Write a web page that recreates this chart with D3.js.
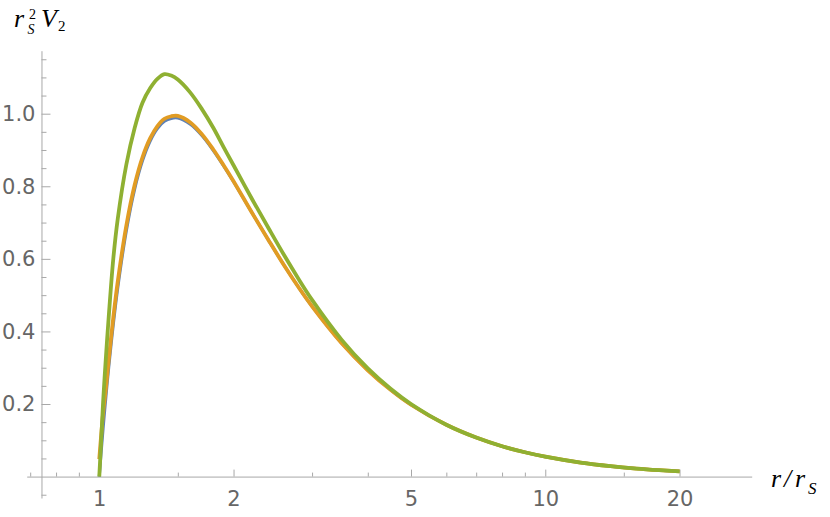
<!DOCTYPE html>
<html>
<head>
<meta charset="utf-8">
<script src="https://cdn.jsdelivr.net/npm/d3@7"></script>
<style>
  html, body { margin: 0; padding: 0; background: #fff; }
  svg { display: block; }
  .tick text { font-family: "DejaVu Sans", sans-serif; font-size: 21px; fill: #666; }
  .lab { font-family: "Liberation Serif", "Times New Roman", serif; font-style: italic; fill: #000; }
</style>
</head>
<body>
<svg id="chart" width="830" height="517"></svg>
<script>
// ---- data ----
const rValues = [1, 1.01, 1.02, 1.035, 1.05, 1.075, 1.1, 1.15, 1.2, 1.25, 1.3, 1.35, 1.4, 1.45, 1.5,
  1.6, 1.7, 1.8, 1.9, 2.0, 2.2, 2.4, 2.6, 2.8, 3.0, 3.5, 4, 4.5, 5, 6, 7, 8, 9, 10, 12, 14, 16, 18, 20];
const blueValues = [0, 0.068, 0.132, 0.220, 0.300, 0.418, 0.519, 0.677, 0.791, 0.870, 0.924, 0.959, 0.979, 0.987, 0.988,
  0.9705, 0.939, 0.899, 0.856, 0.8125, 0.727, 0.650, 0.581, 0.521, 0.469, 0.3665, 0.293, 0.239, 0.198, 0.1428, 0.1075, 0.0837, 0.0671, 0.0549, 0.0387, 0.0288, 0.0222, 0.0177, 0.0144];
const orangeValues = [0.048, 0.115, 0.175, 0.245, 0.322, 0.438, 0.537, 0.692, 0.803, 0.880, 0.932, 0.966, 0.986, 0.993, 0.994,
  0.976, 0.943, 0.902, 0.858, 0.814, 0.727, 0.650, 0.581, 0.521, 0.469, 0.3665, 0.293, 0.239, 0.198, 0.1428, 0.1075, 0.0837, 0.0671, 0.0549, 0.0387, 0.0288, 0.0222, 0.0177, 0.0144];
const greenValues = [0, 0.10, 0.205, 0.33, 0.44, 0.60, 0.71, 0.86, 0.96, 1.03, 1.07, 1.096, 1.109, 1.105, 1.094,
  1.058, 1.012, 0.962, 0.908, 0.858, 0.765, 0.683, 0.609, 0.544, 0.487, 0.376, 0.298, 0.242, 0.200, 0.1428, 0.1075, 0.0837, 0.0671, 0.0549, 0.0387, 0.0288, 0.0222, 0.0177, 0.0144];

const xMajorTicks = [1, 2, 5, 10, 20];
const xMinorTicks = [0.7, 0.8, 0.9, 1.5, 3, 4, 6, 7, 8, 9, 15];
const yMajorTicks = [0.2, 0.4, 0.6, 0.8, 1.0];
const yMinorTicks = [-0.05, 0.05, 0.1, 0.15, 0.25, 0.3, 0.35, 0.45, 0.5, 0.55, 0.65, 0.7, 0.75, 0.85, 0.9, 0.95, 1.05, 1.1, 1.15];
const yTickLabels = ["0.2", "0.4", "0.6", "0.8", "1.0"];

const seriesColors = ["#5E81B5", "#E19C24", "#8FB032"];
const xDomain = [0.6875, 29.03];
const yDomain = [-0.059, 1.1736];
const yAxisCrossX = 0.742;

// ---- chart ----
const svg = d3.select("#chart");
const x = d3.scaleLog().domain(xDomain).range([26.7, 751.7]);
const y = d3.scaleLinear().domain(yDomain).range([498, 50.7]);

const axisColor = "#a8a8a8";

// x axis
const gx = svg.append("g").attr("transform", `translate(0,${y(0)})`);
gx.append("g").call(d3.axisBottom(x).tickValues(xMinorTicks).tickSizeInner(-4).tickSizeOuter(0).tickFormat(""))
  .call(g => g.select(".domain").attr("stroke", axisColor));
gx.append("g").call(d3.axisBottom(x).tickValues(xMajorTicks).tickSizeInner(-7).tickSizeOuter(0).tickPadding(14.5).tickFormat(d3.format("d")))
  .call(g => g.select(".domain").remove());
gx.selectAll("line").attr("stroke", axisColor);

// y axis
const gy = svg.append("g").attr("transform", `translate(${x(yAxisCrossX)},0)`);
gy.append("g").call(d3.axisLeft(y).tickValues(yMinorTicks).tickSizeInner(-5).tickSizeOuter(0).tickFormat(""))
  .call(g => g.select(".domain").attr("stroke", axisColor));
gy.append("g").call(d3.axisLeft(y).tickValues(yMajorTicks).tickSizeInner(-9).tickSizeOuter(0).tickPadding(6)
    .tickFormat((d, i) => yTickLabels[i]))
  .call(g => g.select(".domain").remove());
gy.selectAll("line").attr("stroke", axisColor);
svg.selectAll(".tick text").attr("fill", "#666").style("font-size", "21px");

// curves
const line = d3.line().x(d => x(d[0])).y(d => y(d[1])).curve(d3.curveCatmullRom.alpha(0.5));
[blueValues, orangeValues, greenValues].forEach((vals, i) => {
  svg.append("path")
    .datum(rValues.map((r, j) => [r, vals[j]]))
    .attr("fill", "none")
    .attr("stroke", seriesColors[i])
    .attr("stroke-width", i === 0 ? 3 : 3.8)
    .attr("stroke-linejoin", "round")
    .attr("d", line);
});

// axis labels
const tl = svg.append("text").attr("class", "lab").attr("x", 14).attr("y", 27).style("font-size", "26px");
tl.append("tspan").text("r");
tl.append("tspan").attr("x", 29).attr("y", 18.5).style("font-size", "14px").style("font-style", "normal").text("2");
tl.append("tspan").attr("x", 27.5).attr("y", 33.5).style("font-size", "14px").text("S");
tl.append("tspan").attr("x", 41).attr("y", 27).text("V");
tl.append("tspan").attr("x", 58).attr("y", 30.5).style("font-size", "15px").style("font-style", "normal").text("2");

const bl = svg.append("text").attr("class", "lab").attr("x", 771).attr("y", 487).style("font-size", "26px");
bl.append("tspan").text("r");
bl.append("tspan").attr("x", 784).text("/");
bl.append("tspan").attr("x", 795).text("r");
bl.append("tspan").attr("x", 808).attr("y", 494).style("font-size", "17px").text("S");
</script>
</body>
</html>
